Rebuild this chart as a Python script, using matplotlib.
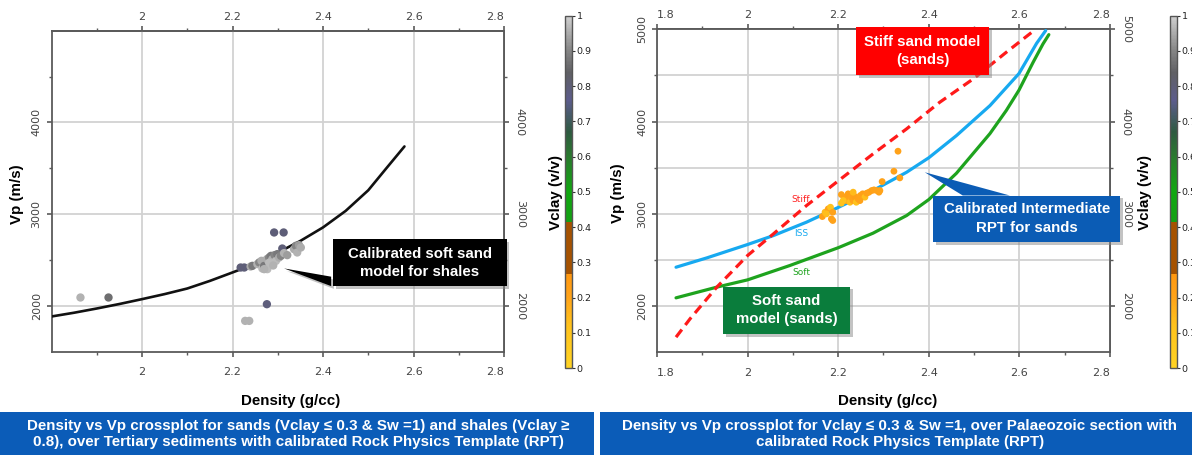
import numpy as np
import matplotlib
matplotlib.use("Agg")
import matplotlib.pyplot as plt
from matplotlib.colors import LinearSegmentedColormap, Normalize
from matplotlib.cm import ScalarMappable
from matplotlib.patches import Rectangle, Polygon
import matplotlib.patheffects as pe

# ---------------- data ----------------
# Left panel: calibrated soft sand model for shales
shale_model_den = [1.80, 1.85, 1.90, 1.95, 2.00, 2.05, 2.10, 2.15, 2.20, 2.25, 2.30, 2.35, 2.40, 2.45, 2.50, 2.54, 2.58]
shale_model_vp = [1884, 1925, 1971, 2020, 2073, 2128, 2189, 2272, 2364, 2458, 2580, 2708, 2855, 3035, 3260, 3500, 3738]

shale_den = [1.864, 1.926, 2.218, 2.226, 2.228, 2.237, 2.276, 2.292, 2.313, 2.310,
             2.240, 2.244, 2.255, 2.259, 2.264, 2.266, 2.270, 2.276, 2.277, 2.281,
             2.285, 2.288, 2.293, 2.296, 2.299, 2.303, 2.307, 2.314, 2.321, 2.336,
             2.340, 2.343, 2.347, 2.351, 2.281, 2.270, 2.290]
shale_vp = [2091, 2091, 2418, 2418, 1836, 1836, 2018, 2800, 2800, 2625,
            2429, 2436, 2455, 2473, 2491, 2407, 2436, 2509, 2400, 2527,
            2545, 2509, 2553, 2490, 2564, 2527, 2545, 2575, 2553, 2618,
            2655, 2582, 2662, 2636, 2470, 2400, 2440]
shale_vclay = [0.96, 0.86, 0.80, 0.80, 0.96, 0.96, 0.79, 0.80, 0.80, 0.80,
               0.95, 0.88, 0.96, 0.90, 0.95, 0.97, 0.88, 0.95, 0.97, 0.90,
               0.88, 0.96, 0.90, 0.97, 0.88, 0.95, 0.90, 0.96, 0.93, 0.95,
               0.90, 0.96, 0.93, 0.95, 0.97, 0.96, 0.96]

# Right panel: rock physics templates for sands
stiff_den = [1.842, 1.873, 1.932, 2.000, 2.057, 2.130, 2.201, 2.277, 2.351, 2.424, 2.498, 2.571, 2.630]
stiff_vp = [1664, 1863, 2206, 2549, 2783, 3090, 3361, 3650, 3921, 4209, 4462, 4751, 4978]

iss_den = [1.842, 1.910, 2.000, 2.057, 2.130, 2.201, 2.277, 2.351, 2.400, 2.461, 2.535, 2.599, 2.638, 2.658]
iss_vp = [2422, 2523, 2668, 2765, 2910, 3072, 3253, 3451, 3608, 3848, 4173, 4520, 4848, 4986]

soft_den = [1.842, 1.932, 2.000, 2.093, 2.201, 2.277, 2.351, 2.400, 2.461, 2.535, 2.571, 2.599, 2.630, 2.652, 2.665]
soft_vp = [2090, 2206, 2285, 2440, 2635, 2791, 2982, 3155, 3440, 3870, 4120, 4340, 4640, 4841, 4942]

sand_den = [2.332, 2.323, 2.336, 2.297, 2.165, 2.171, 2.178, 2.183, 2.188, 2.185,
            2.188, 2.174, 2.207, 2.207, 2.215, 2.218, 2.222, 2.226, 2.229, 2.233,
            2.237, 2.240, 2.244, 2.249, 2.254, 2.259, 2.263, 2.268, 2.274, 2.279,
            2.285, 2.290, 2.233, 2.211, 2.248, 2.292]
sand_vp = [3679, 3462, 3390, 3350, 2971, 3018, 3054, 3072, 3018, 2946,
           2928, 3000, 3209, 3116, 3181, 3144, 3217, 3126, 3181, 3144,
           3188, 3126, 3162, 3199, 3217, 3181, 3224, 3235, 3253, 3260,
           3253, 3235, 3235, 3144, 3144, 3253]
sand_vclay = [0.21, 0.21, 0.21, 0.21, 0.22, 0.14, 0.20, 0.12, 0.21, 0.22,
              0.21, 0.13, 0.20, 0.12, 0.21, 0.20, 0.22, 0.13, 0.21, 0.20,
              0.22, 0.12, 0.21, 0.20, 0.22, 0.13, 0.21, 0.20, 0.22, 0.21,
              0.20, 0.21, 0.14, 0.12, 0.21, 0.20]

vclay_ticks = [0, 0.1, 0.2, 0.3, 0.4, 0.5, 0.6, 0.7, 0.8, 0.9, 1.0]

# ---------------- styling ----------------
BF = "Liberation Sans"
TF = "DejaVu Sans"

W, H = 1192, 455
fig = plt.figure(figsize=(W / 100, H / 100), dpi=100)


def prect(x0, y0, x1, y1):
    return [x0 / W, 1 - y1 / H, (x1 - x0) / W, (y1 - y0) / H]


def ftext(x, y, s, **kw):
    return fig.text(x / W, 1 - y / H, s, **kw)


cmap = LinearSegmentedColormap.from_list("vclay", [
    (0.00, "#ffd324"), (0.12, "#ffc21c"), (0.20, "#ffa31a"), (0.265, "#ff9810"),
    (0.2651, "#a65200"), (0.415, "#a65200"), (0.4151, "#14a014"), (0.50, "#10a810"),
    (0.60, "#2a7a2e"), (0.67, "#2e5a40"), (0.76, "#5c5c8c"), (0.84, "#606064"),
    (0.90, "#848484"), (1.00, "#d0d0d0")])
norm = Normalize(0, 1)

GRID = "#d2d2d2"
SPINE = "#5a5a5a"
TICKC = "#444444"

axL = fig.add_axes(prect(51.5, 30.7, 504, 351.7))
axR = fig.add_axes(prect(657, 29.3, 1110, 352.3))


def style_axes(ax, xmaj, xmin, ymaj, ymin, ygrid_minor, first_left):
    ax.set_xlim(1.8, 2.8)
    ax.set_ylim(1500, 5000)
    ax.set_xticks(xmaj)
    ax.set_xticks(xmin, minor=True)
    ax.set_yticks(ymaj)
    ax.set_yticks(ymin, minor=True)
    for sp in ax.spines.values():
        sp.set_color(SPINE)
        sp.set_linewidth(1.3)
    ax.grid(True, which="major", color=GRID, lw=1.3)
    if ygrid_minor:
        ax.grid(True, which="minor", axis="y", color=GRID, lw=1.3)
    ax.set_axisbelow(True)
    ax.tick_params(which="major", direction="out", length=3.5, width=1.2, color=SPINE,
                   labelsize=8, labelcolor=TICKC)
    ax.tick_params(which="minor", direction="out", length=2.2, width=1.0, color=SPINE)
    ax.tick_params(axis="x", pad=7.5)
    ax.tick_params(axis="y", pad=3.6)
    ax.set_xticklabels(["%g" % v for v in xmaj], fontfamily=TF)
    ax.set_yticklabels(["%d" % v for v in ymaj], fontfamily=TF, rotation=90, va="center")
    labs = ax.get_xticklabels()
    labs[-1].set_ha("right")
    if first_left:
        labs[0].set_ha("left")
    # top axis
    top = ax.secondary_xaxis("top")
    top.set_xticks(xmaj)
    top.set_xticks(xmin, minor=True)
    top.set_xticklabels(["%g" % v for v in xmaj], fontfamily=TF)
    top.tick_params(which="major", direction="out", length=3.5, width=1.2, color=SPINE,
                    labelsize=8, labelcolor=TICKC, pad=3.0)
    top.tick_params(which="minor", direction="out", length=2.2, width=1.0, color=SPINE)
    top.spines["top"].set_color(SPINE)
    top.spines["top"].set_linewidth(1.3)
    tl = top.get_xticklabels()
    tl[-1].set_ha("right")
    if first_left:
        tl[0].set_ha("left")
    # right axis
    rgt = ax.secondary_yaxis("right")
    rgt.set_yticks(ymaj)
    rgt.set_yticks(ymin, minor=True)
    rgt.set_yticklabels(["%d" % v for v in ymaj], fontfamily=TF, rotation=270, va="center")
    rgt.tick_params(which="major", direction="out", length=3.5, width=1.2, color=SPINE,
                    labelsize=8, labelcolor=TICKC, pad=4.2)
    rgt.tick_params(which="minor", direction="out", length=2.2, width=1.0, color=SPINE)
    rgt.spines["right"].set_color(SPINE)
    rgt.spines["right"].set_linewidth(1.3)


style_axes(axL, [2.0, 2.2, 2.4, 2.6, 2.8], [1.9, 2.1, 2.3, 2.5, 2.7],
           [2000, 3000, 4000], [2500, 3500, 4500], False, False)
style_axes(axR, [1.8, 2.0, 2.2, 2.4, 2.6, 2.8], [1.9, 2.1, 2.3, 2.5, 2.7],
           [2000, 3000, 4000, 5000], [2500, 3500, 4500], True, True)

BOXFS = 10.8
BOXLS = 1.4

# ---------------- left panel marks ----------------
axL.plot(shale_model_den, shale_model_vp, color="#111111", lw=1.9, zorder=3,
         solid_capstyle="round")
axL.scatter(shale_den, shale_vp, c=shale_vclay, cmap=cmap, norm=norm, s=36,
            edgecolors="none", zorder=4)

shadow = [pe.withSimplePatchShadow(offset=(2, -2), shadow_rgbFace="#888888", alpha=0.5)]
# callout for the shale model
axL.add_patch(Polygon([(2.314, 2408), (2.418, 2318), (2.418, 2215)], closed=True,
                      facecolor="black", edgecolor="none", zorder=5, clip_on=False,
                      path_effects=shadow))
axL.add_patch(Rectangle((2.4216, 2212), 0.3844, 515, facecolor="black", edgecolor="none",
                        zorder=5, clip_on=False, path_effects=shadow))
axL.text(2.6138, 2470, "Calibrated soft sand\nmodel for shales", color="white",
         fontfamily=BF, fontweight="bold", fontsize=BOXFS, ha="center", va="center",
         linespacing=BOXLS, zorder=6)

# ---------------- right panel marks ----------------
axR.plot(soft_den, soft_vp, color="#1ea31e", lw=2.3, zorder=3, solid_capstyle="round")
axR.plot(iss_den, iss_vp, color="#17a9f0", lw=2.3, zorder=3, solid_capstyle="round")
axR.plot(stiff_den, stiff_vp, color="#ff1a1a", lw=2.3, zorder=3, dashes=(3.0, 1.8))
axR.scatter(sand_den, sand_vp, c=sand_vclay, cmap=cmap, norm=norm, s=24,
            edgecolors="none", zorder=4)

axR.text(2.118, 3155, "Stiff", color="#ff2020", fontsize=6.5, fontfamily="DejaVu Sans",
         ha="center", va="center", zorder=4)
axR.text(2.118, 2790, "ISS", color="#17a9f0", fontsize=6.5, fontfamily="DejaVu Sans",
         ha="center", va="center", zorder=4)
axR.text(2.118, 2368, "Soft", color="#1ea31e", fontsize=6.5, fontfamily="DejaVu Sans",
         ha="center", va="center", zorder=4)

# red box
axR.add_patch(Rectangle((2.240, 4506), 0.293, 515, facecolor="#ff0000", edgecolor="none",
                        zorder=5, clip_on=False, path_effects=shadow))
axR.text(2.3865, 4765, "Stiff sand model\n(sands)", color="white", fontfamily=BF,
         fontweight="bold", fontsize=BOXFS, ha="center", va="center",
         linespacing=BOXLS, zorder=6)
# blue box + callout
axR.add_patch(Polygon([(2.391, 3451), (2.475, 3199), (2.579, 3199)], closed=True,
                      facecolor="#0b5cb5", edgecolor="none", zorder=5, clip_on=False))
axR.add_patch(Rectangle((2.410, 2693), 0.413, 506, facecolor="#0b5cb5", edgecolor="none",
                        zorder=5, clip_on=False, path_effects=shadow))
axR.text(2.6165, 2948, "Calibrated Intermediate\nRPT for sands", color="white",
         fontfamily=BF, fontweight="bold", fontsize=BOXFS, ha="center", va="center",
         linespacing=BOXLS, zorder=6)
# green box
axR.add_patch(Rectangle((1.946, 1701), 0.280, 512, facecolor="#0a7d3c", edgecolor="none",
                        zorder=5, clip_on=False, path_effects=shadow))
axR.text(2.086, 1957, "Soft sand\nmodel (sands)", color="white", fontfamily=BF,
         fontweight="bold", fontsize=BOXFS, ha="center", va="center",
         linespacing=BOXLS, zorder=6)

# ---------------- axis labels ----------------
LAB = dict(fontfamily=BF, fontweight="bold", fontsize=10.9, color="black",
           ha="center", va="center")
ftext(17, 194, "Vp (m/s)", rotation=90, **LAB)
ftext(618, 193, "Vp (m/s)", rotation=90, **LAB)
ftext(291, 401, "Density (g/cc)", **LAB)
ftext(888, 401, "Density (g/cc)", **LAB)
ftext(556, 193, "Vclay (v/v)", rotation=90, **LAB)
ftext(1145, 193, "Vclay (v/v)", rotation=90, **LAB)

# ---------------- colorbars ----------------
for x0 in (565, 1170):
    cax = fig.add_axes(prect(x0, 15.7, x0 + 7, 368))
    cb = fig.colorbar(ScalarMappable(norm=norm, cmap=cmap), cax=cax, ticks=vclay_ticks)
    cb.ax.set_yticklabels(["%g" % v for v in vclay_ticks], fontfamily=TF)
    cb.ax.tick_params(labelsize=6.8, length=2.5, width=0.8, color="#333333",
                      labelcolor="#222222", pad=1)
    cb.outline.set_edgecolor("#555555")
    cb.outline.set_linewidth(1.0)

# ---------------- caption banners ----------------
BLUE = "#0b5cb8"
fig.patches.append(Rectangle((0, 0), 594 / W, (H - 411.7) / H, transform=fig.transFigure,
                             facecolor=BLUE, edgecolor="none", zorder=0))
fig.patches.append(Rectangle((600 / W, 0), 592 / W, (H - 411.7) / H,
                             transform=fig.transFigure, facecolor=BLUE, edgecolor="none",
                             zorder=0))
CAP = dict(fontfamily=BF, fontweight="bold", fontsize=10.9, color="white",
           ha="center", va="center", linespacing=1.12)
ftext(298, 434, "Density vs Vp crossplot for sands (Vclay \u2264 0.3 & Sw =1) and shales (Vclay \u2265\n"
      "0.8), over Tertiary sediments with calibrated Rock Physics Template (RPT)", **CAP)
ftext(900, 434, "Density vs Vp crossplot for Vclay \u2264 0.3 & Sw =1, over Palaeozoic section with\n"
      "calibrated Rock Physics Template (RPT)", **CAP)

fig.savefig("out.png", dpi=100)
